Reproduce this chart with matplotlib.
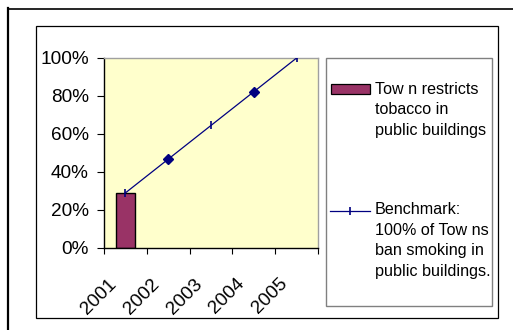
import numpy as np
import matplotlib.pyplot as plt
from matplotlib.patches import Rectangle
from matplotlib.lines import Line2D

plt.rcParams['font.family'] = ['Liberation Sans', 'DejaVu Sans']

# data
years = ['2001', '2002', '2003', '2004', '2005']
town_restricts = [29]            # only 2001 reported
benchmark = [29, 46.75, 64.5, 82.25, 100]
bar_label = 'Tow n restricts\ntobacco in\npublic buildings'
line_label = 'Benchmark:\n100% of Tow ns\nban smoking in\npublic buildings.'

W, H = 513, 330
fig = plt.figure(figsize=(W / 100, H / 100), dpi=100)

def fx(px):
    return px / W

def fy(py):
    return 1 - py / H

# axes box in pixel terms
ax = fig.add_axes([fx(104), fy(248), fx(318) - fx(104), fy(58) - fy(248)])
ax.set_facecolor('#FFFFCC')

x = np.arange(len(years))
ax.bar(x[:len(town_restricts)], town_restricts, width=0.44,
       color='#993366', edgecolor='black', linewidth=1.0, zorder=2)

ax.plot(x, benchmark, color='#000080', linewidth=0.9, zorder=3)
ax.plot(x[0::2], benchmark[0::2], linestyle='none', marker='|',
        markersize=6, markeredgewidth=1.2, color='#000080', zorder=4)
ax.plot(x[1::2], benchmark[1::2], linestyle='none', marker='D',
        markersize=5.5, color='#000080', zorder=4)

ax.set_xlim(-0.5, len(years) - 0.5)
ax.set_ylim(0, 100)

ax.set_yticks(np.arange(0, 101, 20))
ax.set_yticklabels([f'{v}%' for v in range(0, 101, 20)], fontsize=13.7)
ax.tick_params(axis='y', direction='out', length=5, width=0.8, pad=6)

# ticks sit on category boundaries, labels just left of category centres
ax.set_xticks(np.arange(-0.5, len(years)), minor=False)
ax.set_xticklabels([])
ax.set_xticks(x - 0.27, minor=True)
ax.set_xticklabels(years, minor=True, fontsize=13.7, rotation=45,
                   ha='right', va='center', rotation_mode='anchor')
ax.tick_params(axis='x', which='major', direction='out', length=4, width=0.8)
ax.tick_params(axis='x', which='minor', length=0, pad=24)

for side in ['left', 'bottom']:
    ax.spines[side].set_color('black')
    ax.spines[side].set_linewidth(1.0)
for side in ['top', 'right']:
    ax.spines[side].set_color('#A0A0A0')
    ax.spines[side].set_linewidth(1.0)

# outer frame (only top and left edges visible) and chart frame
fig.add_artist(Line2D([fx(8), fx(8)], [fy(8), 0], color='black', linewidth=1.6))
fig.add_artist(Line2D([fx(8), 1], [fy(8.5), fy(8.5)], color='black', linewidth=1.2))
fig.add_artist(Rectangle((fx(36), fy(317.5)), fx(497.5) - fx(36), fy(26) - fy(317.5),
                         transform=fig.transFigure, fill=False,
                         edgecolor='black', linewidth=0.9))

# legend box
fig.add_artist(Rectangle((fx(326), fy(306)), fx(492) - fx(326), fy(58) - fy(306),
                         transform=fig.transFigure, fill=False,
                         edgecolor='#808080', linewidth=1.0))
fig.add_artist(Rectangle((fx(330.5), fy(94)), fx(370) - fx(330.5), fy(84) - fy(94),
                         transform=fig.transFigure, facecolor='#993366',
                         edgecolor='black', linewidth=0.9))
fig.add_artist(Line2D([fx(330), fx(370)], [fy(211), fy(211)], color='#000080',
                      linewidth=0.9))
fig.add_artist(Line2D([fx(350)], [fy(211)], color='#000080', marker='|',
                      markersize=6, markeredgewidth=1.2, linestyle='none'))

fig.text(fx(375), fy(82), bar_label, fontsize=11.6, va='top', ha='left',
         linespacing=1.45)
fig.text(fx(375), fy(202), line_label, fontsize=11.6, va='top', ha='left',
         linespacing=1.47)

plt.savefig('out.png', dpi=100)
